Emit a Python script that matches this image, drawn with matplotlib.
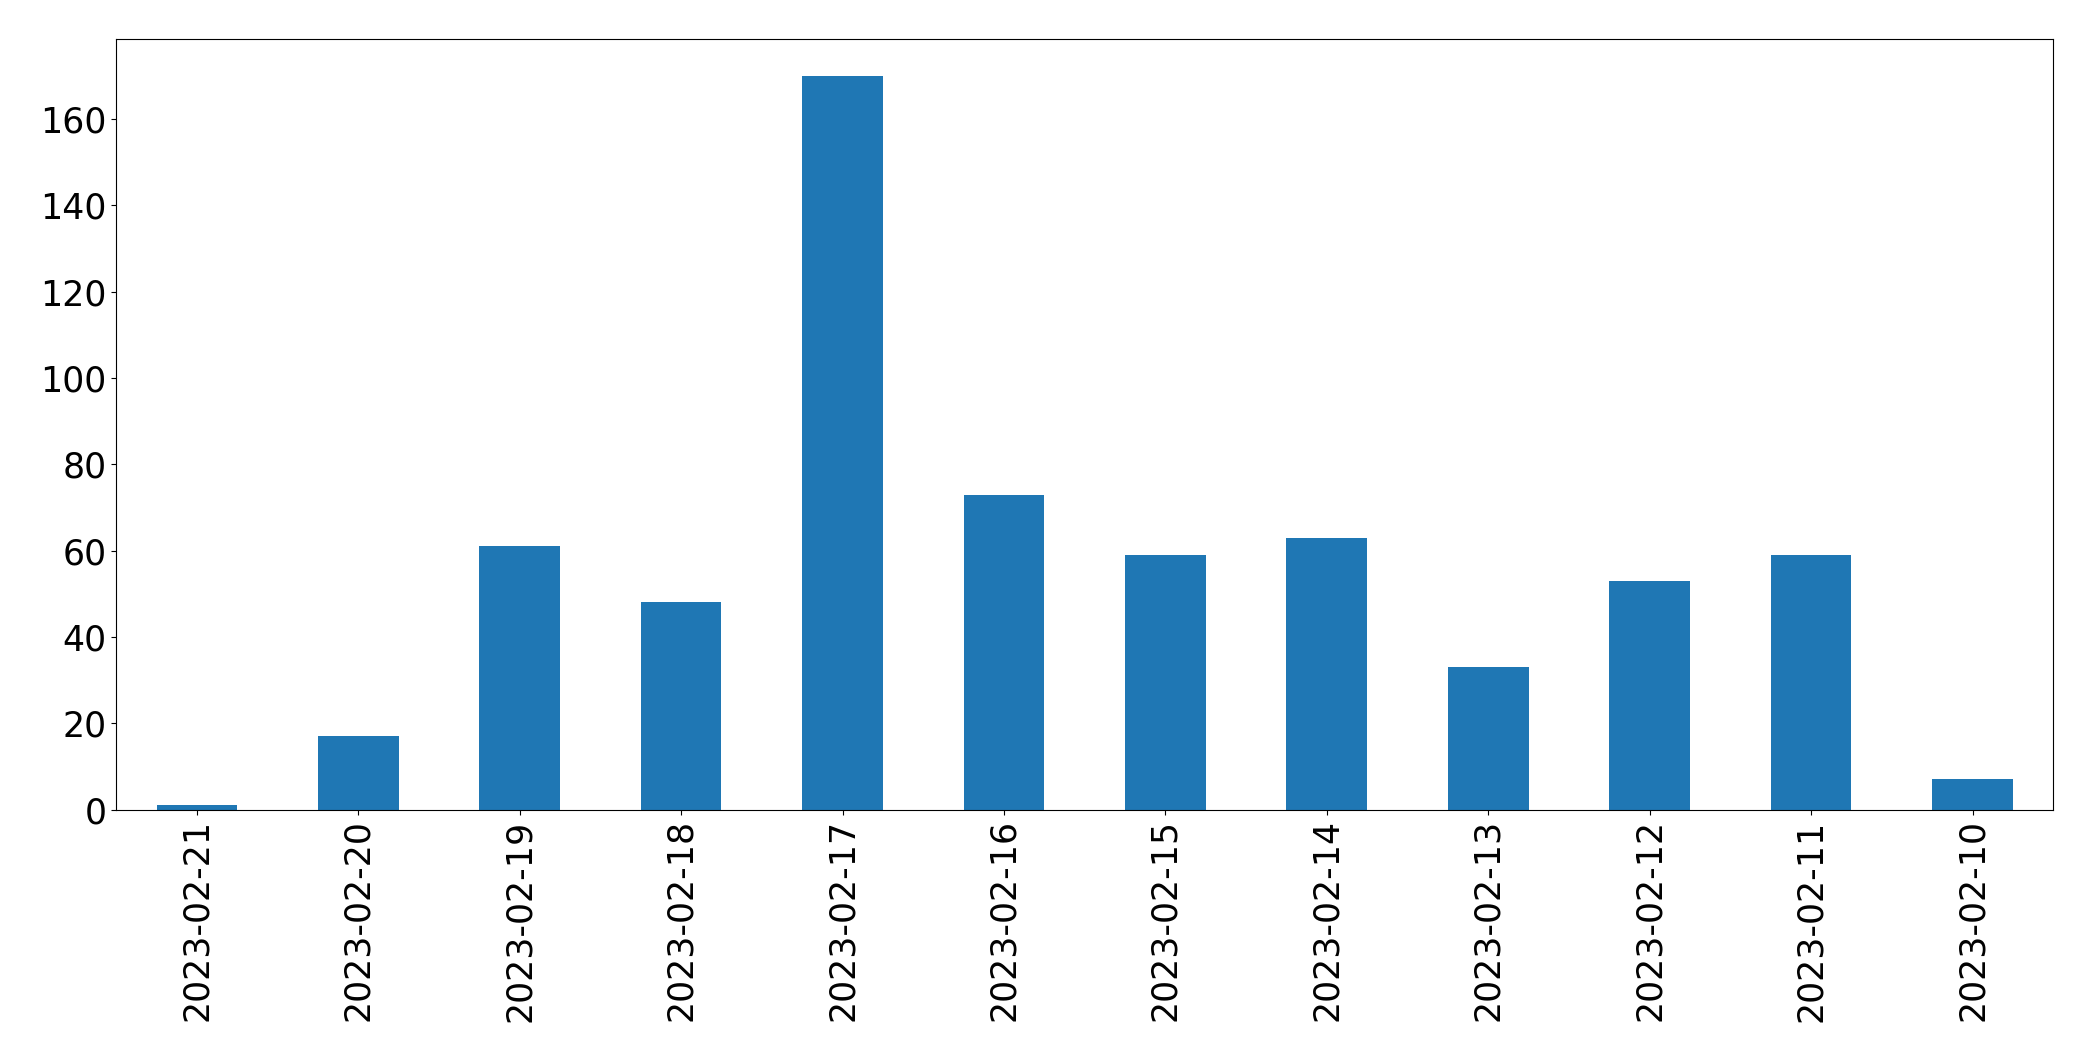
import matplotlib
matplotlib.use('agg')
import matplotlib.pyplot as plt
import pandas as pd

dates = ['2023-02-21', '2023-02-20', '2023-02-19', '2023-02-18', '2023-02-17', '2023-02-16',
         '2023-02-15', '2023-02-14', '2023-02-13', '2023-02-12', '2023-02-11', '2023-02-10']
counts = [1, 17, 61, 48, 170, 73, 59, 63, 33, 53, 59, 7]

s = pd.Series(counts, index=dates)

fig, ax = plt.subplots(figsize=(20.93, 10.61), dpi=100)
s.plot(kind='bar', ax=ax, color='#1f77b4')
ax.tick_params(axis='both', labelsize=25)
fig.subplots_adjust(left=0.0555, right=0.981, top=0.963, bottom=0.237)
fig.savefig('out.png', dpi=100)
